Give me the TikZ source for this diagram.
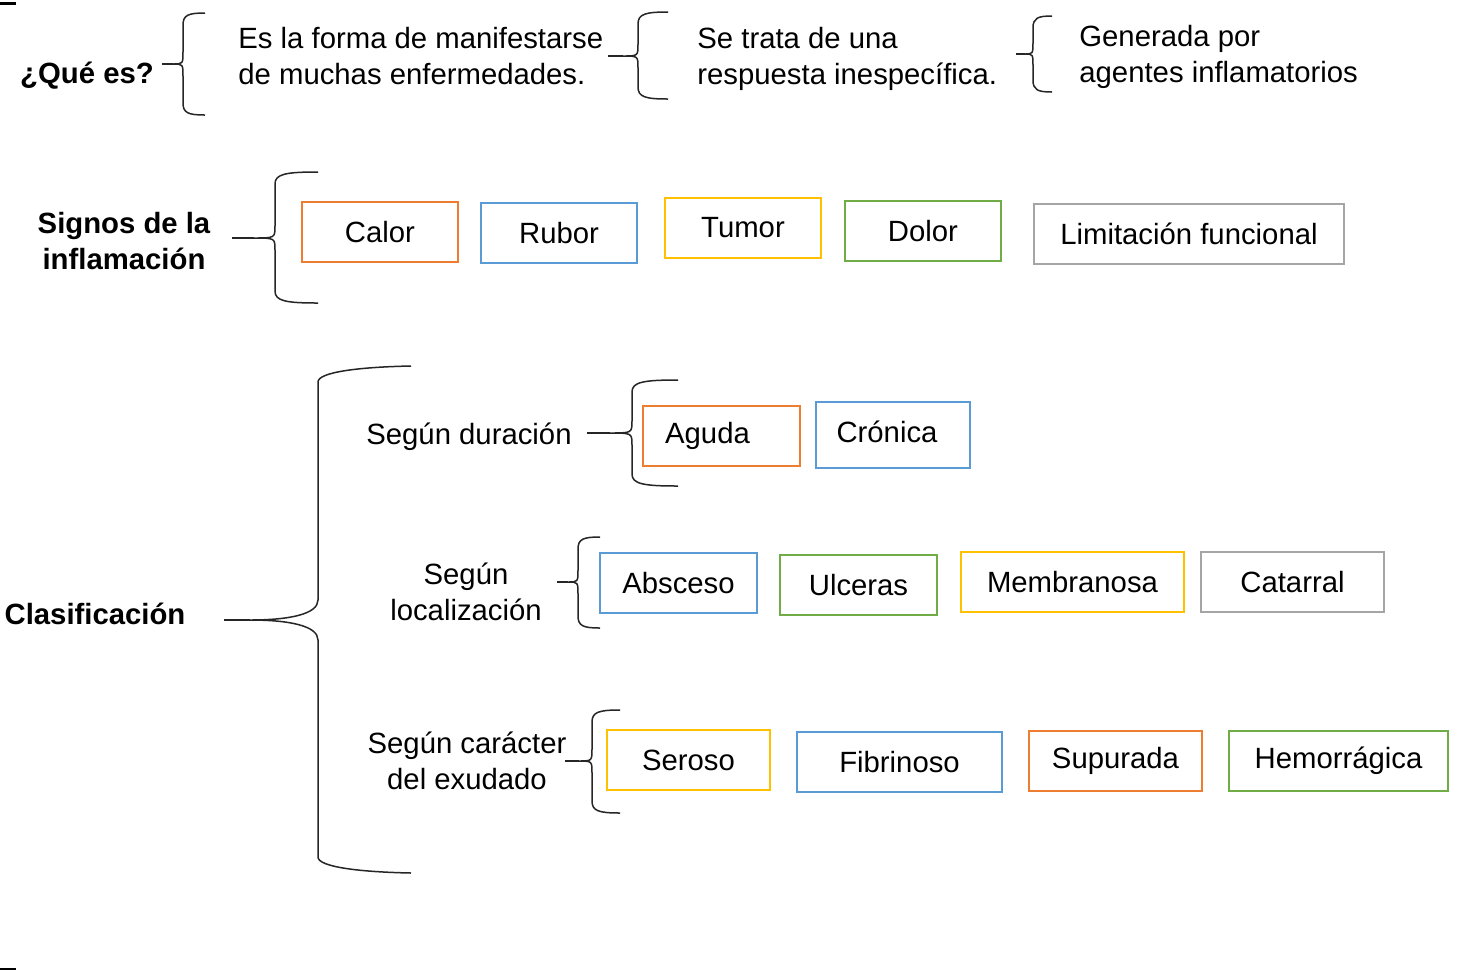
\documentclass[tikz,border=0pt]{standalone}
\usepackage{fontspec}
\setmainfont{Liberation Sans}
\definecolor{corange}{HTML}{ED7D31}
\definecolor{cblue}{HTML}{5B9BD5}
\definecolor{cyellow}{HTML}{FFC000}
\definecolor{cgreen}{HTML}{70AD47}
\definecolor{cgray}{HTML}{A5A5A5}
\newcommand{\mybrace}[6]{%
  % #1 tip start x, #2 tip y, #3 spine x, #4 top y, #5 bottom y, #6 arm end x
  \draw[brc] (#6,#4) .. controls ({#3+0.25*(#6-#3)},#4) and (#3,{#4+2}) .. (#3,{#4+12})
    -- (#3,{#2-12}) .. controls (#3,#2) .. ({#3-0.5*(#3-#1)},#2)
    .. controls (#3,#2) .. (#3,{#2+12})
    -- (#3,{#5-12}) .. controls (#3,{#5-2}) and ({#3+0.25*(#6-#3)},#5) .. (#6,#5);
  \draw[brc] (#1,#2) -- ({#3-0.5*(#3-#1)},#2);
}
\begin{document}
\begin{tikzpicture}[x=0.5pt,y=-0.5pt,
  every node/.style={inner sep=0pt, font=\fontsize{14.65}{18}\selectfont},
  box/.style={draw, line width=1.2pt, minimum height=30pt},
  ttl/.style={font=\fontsize{14.65}{18}\selectfont\bfseries, align=center},
  txt/.style={align=left, anchor=west},
  ctxt/.style={align=center},
  brc/.style={draw=black!85, line width=0.75pt}]
\useasboundingbox[fill=white] (0,0) rectangle (1464,971);
\fill (0,2) rectangle (16,5);
\fill (0,968) rectangle (16,970);

% Row 1
\node[ttl] (que) at (87,76) {¿Qué es?};
\mybrace{162}{64}{183}{13}{115}{205}
\node[txt] (es) at (238,56) {Es la forma de manifestarse\\de muchas enfermedades.};
\mybrace{608}{56}{638}{12}{99}{668}
\node[txt] (se) at (697,59) {Se trata de una\\respuesta inespecífica.};
\mybrace{1016}{54}{1033}{16}{92}{1052}
\node[txt] (gen) at (1079,57) {Generada por\\agentes inflamatorios};

% Row 2
\node[ttl] (signos) at (124,241) {Signos de la\\inflamación};
\mybrace{232}{238}{275}{172}{303}{318}
\node[box, draw=corange, minimum width=78pt] (calor) at (380,232) {Calor};
\node[box, draw=cblue, minimum width=78pt] (rubor) at (559,233) {Rubor};
\node[box, draw=cyellow, minimum width=78pt] (tumor) at (743,228) {Tumor};
\node[box, draw=cgreen, minimum width=78pt] (dolor) at (923,231) {Dolor};
\node[box, draw=cgray, minimum width=155pt] (limit) at (1189,234) {Limitación funcional};

% Row 3
\node[ttl] (clas) at (95,614) {Clasificación};
\draw[brc] (411,366) .. controls (360,367) and (318,372) .. (318,382)
  -- (318,600) .. controls (318,614) and (290,620) .. (250,620)
  .. controls (290,620) and (318,626) .. (318,640)
  -- (318,857) .. controls (318,867) and (360,872) .. (411,873);
\draw[brc] (224,620) -- (250,620);

\node[ctxt] (dur) at (469,437) {Según duración};
\mybrace{587}{433}{632}{380}{486}{678}
\node[box, draw=corange, minimum width=78.5pt] (aguda) at (721.5,436) {\hspace*{-14pt}Aguda};
\node[box, draw=cblue, minimum width=77pt, minimum height=33pt] (cronica) at (893,435) {\raisebox{3pt}{\hspace*{-6pt}Crónica}};

\node[ctxt] (loc) at (466,592) {Según\\localización};
\mybrace{557}{582}{578}{537}{628}{600}
\node[box, draw=cblue, minimum width=78.5pt] (absceso) at (678.5,583) {Absceso};
\node[box, draw=cgreen, minimum width=78.5pt] (ulceras) at (858.5,585) {Ulceras};
\node[box, draw=cyellow, minimum width=111.5pt] (membr) at (1072.5,582) {Membranosa};
\node[box, draw=cgray, minimum width=91.5pt] (catarral) at (1292.5,582) {Catarral};

\node[ctxt] (exu) at (467,761) {Según carácter\\del exudado};
\mybrace{565}{761}{592}{710}{813}{620}
\node[box, draw=cyellow, minimum width=81.5pt] (seroso) at (688.5,760) {Seroso};
\node[box, draw=cblue, minimum width=102.5pt] (fibr) at (899.5,762) {Fibrinoso};
\node[box, draw=corange, minimum width=86.5pt] (supur) at (1115.5,761) {Supurada};
\node[box, draw=cgreen, minimum width=109.5pt] (hemor) at (1338.5,761) {Hemorrágica};
\end{tikzpicture}
\end{document}
